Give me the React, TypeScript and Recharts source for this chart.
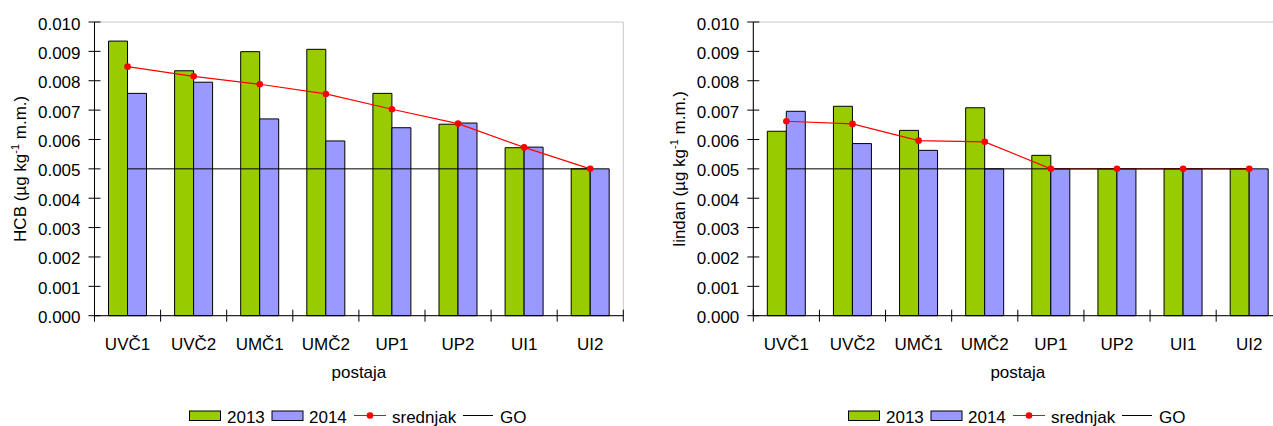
import React from "react";
import {
  ComposedChart,
  Bar,
  Line,
  XAxis,
  YAxis,
  Legend,
  ReferenceArea,
} from "recharts";

const FONT = "'Liberation Sans', Arial, Helvetica, sans-serif";

const categories = ["UVČ1", "UVČ2", "UMČ1", "UMČ2", "UP1", "UP2", "UI1", "UI2"];
const yTicks = [0, 0.001, 0.002, 0.003, 0.004, 0.005, 0.006, 0.007, 0.008, 0.009, 0.01];

const hcb2013 = [0.00935, 0.00834, 0.00899, 0.00907, 0.00757, 0.00652, 0.00572, 0.005];
const hcb2014 = [0.00757, 0.00795, 0.0067, 0.00595, 0.0064, 0.00656, 0.00574, 0.005];
const hcbMean = [0.00848, 0.00815, 0.00788, 0.00755, 0.00703, 0.00654, 0.00573, 0.005];

const lindan2013 = [0.00628, 0.00713, 0.00631, 0.00708, 0.00546, 0.005, 0.005, 0.005];
const lindan2014 = [0.00696, 0.00586, 0.00563, 0.005, 0.005, 0.005, 0.005, 0.005];
const lindanMean = [0.00662, 0.00653, 0.00596, 0.00592, 0.005, 0.005, 0.005, 0.005];

const goLimit = [0.005, 0.005, 0.005, 0.005, 0.005, 0.005, 0.005, 0.005];

const GREEN = "#99CC00";
const BLUE = "#9999FF";
const RED = "#FF0000";
const GREY = "#C8C8C8";

const CHART_H = 426;
const MARGIN_TOP = 22;
const MARGIN_RIGHT = 16.7;
const LEGEND_H = 20;
const XAXIS_H = 90.3;

function buildData(a: number[], b: number[], m: number[]) {
  return categories.map((name, i) => ({
    name,
    y2013: a[i],
    y2014: b[i],
    mean: m[i],
    go: goLimit[i],
  }));
}

function YTick(props: any) {
  const { x, y, payload } = props;
  const axisX = x + 14;
  return (
    <g>
      <line x1={axisX - 6} x2={axisX + 6} y1={y} y2={y} stroke="#000" />
      <text x={x} y={y + 7.5} textAnchor="end" fontSize={17} fontFamily={FONT} fill="#000">
        {Number(payload.value).toFixed(3)}
      </text>
    </g>
  );
}

function makeXTick(bandWidth: number) {
  return function XTick(props: any) {
    const { x, y, payload, index } = props;
    const axisY = y - 8;
    const left = x - bandWidth / 2;
    const right = x + bandWidth / 2;
    return (
      <g>
        <line x1={left} x2={left} y1={axisY - 6} y2={axisY + 6} stroke="#000" />
        {index === categories.length - 1 && (
          <line x1={right} x2={right} y1={axisY - 6} y2={axisY + 6} stroke="#000" />
        )}
        <text x={x} y={axisY + 34.3} textAnchor="middle" fontSize={17} fontFamily={FONT} fill="#000">
          {payload.value}
        </text>
      </g>
    );
  };
}

// legend drawn a couple of px higher than the original so the text stays inside the frame
function LegendBox() {
  return (
    <div style={{ display: "flex", justifyContent: "center", height: LEGEND_H }}>
      <svg width={340} height={LEGEND_H} style={{ overflow: "visible" }} fontFamily={FONT} fontSize={17}>
        <rect x={0.5} y={5} width={31} height={9.5} fill={GREEN} stroke="#000" />
        <text x={38} y={16.5}>2013</text>
        <rect x={83} y={5} width={31} height={9.5} fill={BLUE} stroke="#000" />
        <text x={120} y={16.5}>2014</text>
        <line x1={165} x2={197} y1={9.5} y2={9.5} stroke={RED} />
        <circle cx={181} cy={9.5} r={3.3} fill={RED} />
        <text x={203} y={16.5}>srednjak</text>
        <line x1={274} x2={304} y1={9.5} y2={9.5} stroke="#000" />
        <text x={311} y={16.5}>GO</text>
      </svg>
    </div>
  );
}

function PollutantChart({
  width,
  axisWidth,
  title,
  a,
  b,
  m,
}: {
  width: number;
  axisWidth: number;
  title: string;
  a: number[];
  b: number[];
  m: number[];
}) {
  const data = buildData(a, b, m);
  const plotWidth = width - axisWidth - MARGIN_RIGHT;
  const bandWidth = plotWidth / categories.length;
  const XTick = makeXTick(bandWidth);

  const yLabel = (props: any) => {
    const vb = props.viewBox;
    const lx = vb.x + vb.width - 68.5;
    const cy = vb.y + vb.height / 2;
    return (
      <text
        x={lx}
        y={cy}
        transform={`rotate(-90, ${lx}, ${cy})`}
        textAnchor="middle"
        fontSize={17}
        fontFamily={FONT}
        fill="#000"
      >
        {title} (µg kg
        <tspan fontSize={11} dy={-7}>-1</tspan>
        <tspan dy={7}> m.m.)</tspan>
      </text>
    );
  };

  const xLabel = (props: any) => {
    const vb = props.viewBox;
    return (
      <text
        x={vb.x + vb.width / 2}
        y={vb.y + 62.5}
        textAnchor="middle"
        fontSize={17}
        fontFamily={FONT}
        fill="#000"
      >
        postaja
      </text>
    );
  };

  return (
    <ComposedChart
      width={width}
      height={CHART_H}
      data={data}
      margin={{ top: MARGIN_TOP, right: MARGIN_RIGHT, left: 0, bottom: 0 }}
      barCategoryGap={14}
      barGap={0}
    >
      <ReferenceArea y1={0} y2={0.01} fill="none" stroke={GREY} strokeWidth={1} ifOverflow="visible" />
      <XAxis
        dataKey="name"
        height={XAXIS_H}
        tickSize={6}
        tickMargin={2}
        tickLine={false}
        interval={0}
        axisLine={{ stroke: "#000" }}
        tick={<XTick />}
        label={xLabel}
      />
      <YAxis
        width={axisWidth}
        domain={[0, 0.01]}
        ticks={yTicks}
        interval={0}
        tickSize={6}
        tickMargin={8}
        tickLine={false}
        axisLine={{ stroke: "#000" }}
        tick={<YTick />}
        label={yLabel}
      />
      <Bar dataKey="y2013" name="2013" fill={GREEN} stroke="#000" strokeWidth={1} isAnimationActive={false} />
      <Bar dataKey="y2014" name="2014" fill={BLUE} stroke="#000" strokeWidth={1} isAnimationActive={false} />
      <Line
        dataKey="mean"
        name="srednjak"
        type="linear"
        stroke={RED}
        strokeWidth={1.2}
        dot={{ r: 3.3, fill: RED, stroke: RED, strokeWidth: 0 }}
        activeDot={false}
        isAnimationActive={false}
      />
      <Line
        dataKey="go"
        name="GO"
        type="linear"
        stroke="#000"
        strokeWidth={1}
        dot={false}
        activeDot={false}
        isAnimationActive={false}
      />
      <Legend
        verticalAlign="bottom"
        content={() => <LegendBox />}
        wrapperStyle={{ left: axisWidth, width: plotWidth, bottom: 0, height: LEGEND_H }}
      />
    </ComposedChart>
  );
}

export default function App() {
  return (
    <div
      style={{
        position: "absolute",
        left: 0,
        top: 0,
        width: 1273,
        height: 426,
        overflow: "hidden",
        background: "#fff",
      }}
    >
      <div style={{ position: "absolute", left: 0, top: 0 }}>
        <PollutantChart width={640} axisWidth={94.5} title="HCB" a={hcb2013} b={hcb2014} m={hcbMean} />
      </div>
      <div style={{ position: "absolute", left: 640, top: 0 }}>
        <PollutantChart width={659} axisWidth={113.3} title="lindan" a={lindan2013} b={lindan2014} m={lindanMean} />
      </div>
    </div>
  );
}
